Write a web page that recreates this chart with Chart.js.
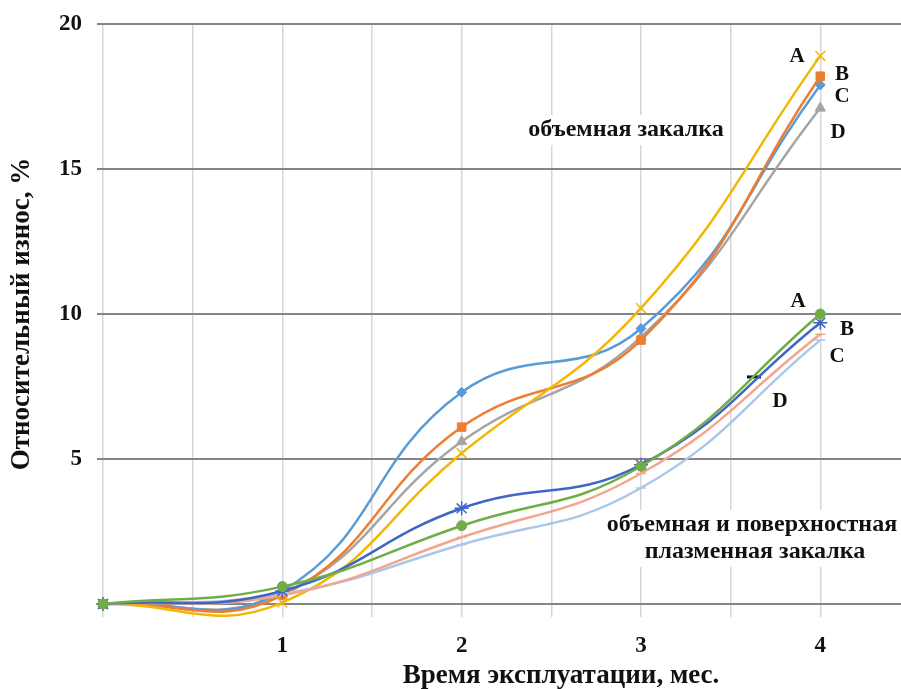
<!DOCTYPE html>
<html>
<head>
<meta charset="utf-8">
<script src="https://cdn.jsdelivr.net/npm/chart.js@4.4.0/dist/chart.umd.min.js"></script>
<style>
  body { margin: 0; background: #fff; }
  #wrap { width: 901px; height: 689px; }
</style>
</head>
<body>
<div id="wrap"><canvas id="wearChart" width="901" height="689"></canvas></div>
<script>
// Данные: время эксплуатации (мес.) и относительный износ (%)
const months = [0, 1, 2, 3, 4];

// объемная закалка
const bulkA = [0, 0.05, 5.2, 10.2, 18.9];
const bulkB = [0, 0.3, 6.1, 9.1, 18.2];
const bulkC = [0, 0.45, 7.3, 9.5, 17.9];
const bulkD = [0, 0.35, 5.6, 9.2, 17.1];

// объемная и поверхностная плазменная закалка
const plasmaA = [0, 0.6, 2.7, 4.75, 10.0];
const plasmaB = [0, 0.45, 3.3, 4.8, 9.7];
const plasmaC = [0, 0.3, 2.3, 4.5, 9.3];
const plasmaD = [0, 0.35, 2.05, 4.0, 9.1];

// одиночная отметка на графике
const strayX = [3.63];
const strayY = [7.83];

const yTicks = [5, 10, 15, 20];
const xTicks = [1, 2, 3, 4];

const FONT = "'Liberation Serif', 'Times New Roman', serif";

function pts(xs, ys) {
    return xs.map((x, i) => ({ x: x, y: ys[i] }));
}

function series(ys, color, style, radius) {
    return {
        data: pts(months, ys),
        borderColor: color,
        backgroundColor: color,
        borderWidth: 2.5,
        pointStyle: style,
        pointRadius: radius,
        pointBorderWidth: style === 'crossRot' || style === 'star' || style === 'line' ? 1.5 : 1,
        tension: 0.45,
        clip: false,
        fill: false
    };
}

// подписи на поле графика
const notes = [
    { text: 'объемная закалка', x: 626, y: 130, size: 24, box: true },
    { text: 'объемная и поверхностная', x: 752, y: 525, size: 24, box: true },
    { text: 'плазменная закалка', x: 755, y: 552, size: 24, box: true },
    { text: 'A', x: 797, y: 57, size: 21 },
    { text: 'B', x: 842, y: 75, size: 21 },
    { text: 'C', x: 842, y: 97, size: 21 },
    { text: 'D', x: 838, y: 133, size: 21 },
    { text: 'A', x: 798, y: 302, size: 21 },
    { text: 'B', x: 847, y: 330, size: 21 },
    { text: 'C', x: 837, y: 357, size: 21 },
    { text: 'D', x: 780, y: 402, size: 21 }
];

const notesPlugin = {
    id: 'notes',
    beforeDatasetsDraw(chart) {
        const ctx = chart.ctx;
        ctx.save();
        notes.forEach(n => {
            if (!n.box) return;
            ctx.font = `bold ${n.size}px ${FONT}`;
            const w = ctx.measureText(n.text).width;
            ctx.fillStyle = '#ffffff';
            ctx.fillRect(n.x - w / 2 - 6, n.y - n.size / 2 - 3, w + 12, n.size + 6);
        });
        ctx.restore();
    },
    afterDatasetsDraw(chart) {
        const ctx = chart.ctx;
        ctx.save();
        ctx.fillStyle = '#111111';
        ctx.textAlign = 'center';
        ctx.textBaseline = 'middle';
        notes.forEach(n => {
            ctx.font = `bold ${n.size}px ${FONT}`;
            ctx.fillText(n.text, n.x, n.y);
        });
        // подпись оси X
        ctx.font = `bold 27px ${FONT}`;
        ctx.fillText('Время эксплуатации, мес.', 561, 676);
        ctx.restore();
    }
};

const ctx = document.getElementById('wearChart').getContext('2d');
new Chart(ctx, {
    type: 'line',
    data: {
        datasets: [
            series(plasmaA, '#70AD47', 'circle', 5),
            series(plasmaB, '#3F66C4', 'star', 7),
            series(plasmaC, '#F2A68C', 'line', 5),
            series(plasmaD, '#A9C8E8', 'line', 5),
            series(bulkA, '#F2B705', 'crossRot', 7),
            series(bulkB, '#ED7D31', 'rect', 6),
            series(bulkC, '#5B9BD5', 'rectRot', 5),
            series(bulkD, '#A5A5A5', 'triangle', 6),
            {
                data: pts(strayX, strayY),
                showLine: false,
                borderColor: '#111111',
                backgroundColor: '#111111',
                pointStyle: 'line',
                pointRadius: 7,
                pointBorderWidth: 3
            }
        ]
    },
    options: {
        responsive: false,
        animation: false,
        layout: { autoPadding: false, padding: { top: 24, right: 0, bottom: 0, left: 0 } },
        elements: { line: { capBezierPoints: false } },
        plugins: {
            legend: { display: false },
            tooltip: { enabled: false }
        },
        scales: {
            x: {
                type: 'linear',
                min: 0,
                max: 4.45,
                afterFit: (scale) => {
                    scale.height = 85;
                    scale.paddingLeft = 0;
                    scale.paddingRight = 0;
                },
                border: { display: false },
                grid: { color: '#d6d6d6', lineWidth: 1.5, tickLength: 13 },
                ticks: {
                    stepSize: 0.5,
                    includeBounds: false,
                    autoSkip: false,
                    maxRotation: 0,
                    padding: 15,
                    color: '#111111',
                    font: { family: FONT, size: 23, weight: 'bold' },
                    callback: (v) => xTicks.includes(v) ? String(v) : ''
                }
            },
            y: {
                min: 0,
                max: 20,
                afterFit: (scale) => {
                    scale.width = 103;
                    scale.paddingTop = 0;
                    scale.paddingBottom = 0;
                },
                border: { display: false },
                grid: { color: '#858585', lineWidth: 2, tickLength: 6 },
                ticks: {
                    stepSize: 5,
                    padding: 15,
                    color: '#111111',
                    font: { family: FONT, size: 23, weight: 'bold' },
                    callback: (v) => yTicks.includes(v) ? String(v) : ''
                },
                title: {
                    display: true,
                    text: 'Относительный износ, %',
                    color: '#111111',
                    padding: { top: 6, bottom: 0 },
                    font: { family: FONT, size: 27, weight: 'bold' }
                }
            }
        }
    },
    plugins: [notesPlugin]
});
</script>
</body>
</html>
